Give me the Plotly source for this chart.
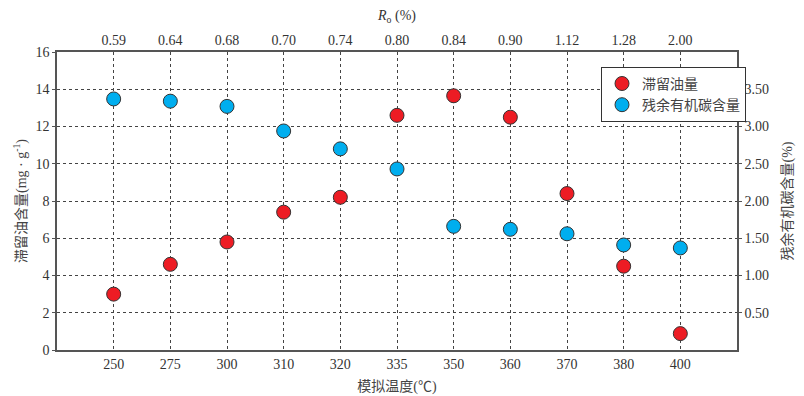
import plotly.graph_objects as go

# data
temps = ["250", "275", "300", "310", "320", "335", "350", "360", "370", "380", "400"]
ro_labels = ["0.59", "0.64", "0.68", "0.70", "0.74", "0.80", "0.84", "0.90", "1.12", "1.28", "2.00"]
oil_retained = [3.0, 4.6, 5.8, 7.4, 8.2, 12.6, 13.65, 12.5, 8.4, 4.5, 0.88]
toc_residual = [3.37, 3.34, 3.27, 2.94, 2.70, 2.43, 1.66, 1.62, 1.56, 1.41, 1.37]
left_ticks = [0, 2, 4, 6, 8, 10, 12, 14, 16]
right_ticks = [0.5, 1.0, 1.5, 2.0, 2.5, 3.0, 3.5]

idx = list(range(len(temps)))
FONT = "Liberation Serif, Noto Sans CJK SC, serif"
AX = "#555"
GRID = "#444"

fig = go.Figure()
fig.add_trace(go.Scatter(
    x=idx, y=oil_retained, mode="markers", name="滞留油量",
    marker=dict(color="#ED1C24", size=14, line=dict(color="#333", width=1)),
    xaxis="x", yaxis="y",
))
fig.add_trace(go.Scatter(
    x=idx, y=toc_residual, mode="markers", name="残余有机碳含量",
    marker=dict(color="#00AEEF", size=14, line=dict(color="#333", width=1)),
    xaxis="x2", yaxis="y2",
))

# page body adds an 8px margin, so the figure is sized/margined to compensate
fig.update_layout(
    width=796, height=388,
    margin=dict(l=49, r=67, t=44, b=46),
    plot_bgcolor="white", paper_bgcolor="white",
    font=dict(family=FONT, size=14, color="#333"),
    showlegend=True,
    legend=dict(
        x=0.80, y=0.95, xanchor="left", yanchor="top",
        bgcolor="white", bordercolor="#333", borderwidth=1,
        font=dict(size=14, color="#444"),
        itemwidth=30, tracegroupgap=0,
    ),
    xaxis=dict(
        range=[-1, 11], tickvals=idx, ticktext=temps, automargin=False,
        showgrid=True, gridcolor=GRID, griddash="dot", gridwidth=1,
        showline=True, linecolor=AX, linewidth=2, ticks="", zeroline=False,
        title=dict(text="模拟温度(℃)", standoff=10, font=dict(size=14, color="#444")),
    ),
    xaxis2=dict(
        overlaying="x", side="top", anchor="y", automargin=False,
        range=[-1, 11], tickvals=idx, ticktext=ro_labels,
        showgrid=False, showline=True, linecolor=AX, linewidth=1.5,
        ticks="", zeroline=False,
        title=dict(text="<i>R</i><sub>o</sub> (%)", standoff=10, font=dict(size=14, color="#333")),
    ),
    yaxis=dict(
        range=[0, 16], tickvals=left_ticks, automargin=False,
        showgrid=True, gridcolor=GRID, griddash="dot", gridwidth=1,
        showline=True, linecolor=AX, linewidth=1.5, ticks="outside", ticklen=3,
        tickcolor=AX, zeroline=False,
        title=dict(text="滞留油含量(mg · g<sup>-1</sup>)", standoff=6, font=dict(size=14, color="#444")),
    ),
    yaxis2=dict(
        overlaying="y", side="right", anchor="x", automargin=False,
        range=[0, 4], tickvals=right_ticks, tickformat=".2f",
        showgrid=False, showline=True, linecolor=AX, linewidth=1.5,
        ticks="outside", ticklen=3, tickcolor=AX, zeroline=False,
        title=dict(text="残余有机碳含量(%)", standoff=14, font=dict(size=14, color="#444")),
    ),
)

fig.write_html("out.html")
